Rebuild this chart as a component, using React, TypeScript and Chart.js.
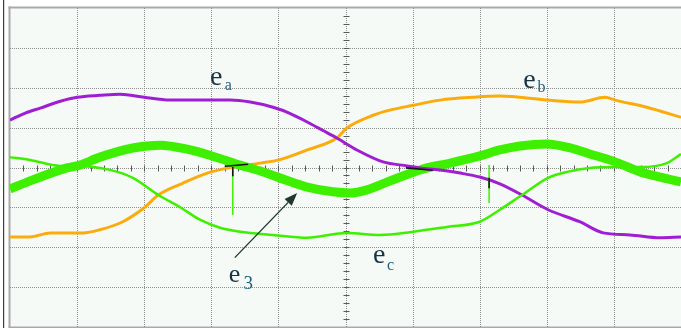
import { useEffect, useRef } from 'react';
import { Chart, registerables } from 'chart.js';

Chart.register(...registerables);

// Horizontal axis: divisions 0..10, vertical axis: divisions -4..4
const X_TICKS = [0, 1, 2, 3, 4, 5, 6, 7, 8, 9, 10];
const Y_TICKS = [-4, -3, -2, -1, 0, 1, 2, 3, 4];

// e_a (purple)
const EA_X = [0, 0.22, 0.45, 0.75, 1.0, 1.34, 1.64, 2.0, 2.38, 2.83, 3.28, 3.58, 3.92, 4.17, 4.43, 4.65, 4.87, 5.17, 5.56, 5.92, 6.11, 6.41, 6.71, 7.0, 7.3, 7.63, 8.02, 8.49, 8.84, 9.24, 9.69, 10];
const EA_Y = [1.19, 1.36, 1.49, 1.66, 1.76, 1.81, 1.84, 1.76, 1.69, 1.69, 1.69, 1.64, 1.51, 1.36, 1.14, 0.94, 0.74, 0.44, 0.14, 0.04, -0.01, -0.06, -0.14, -0.24, -0.41, -0.69, -1.06, -1.36, -1.64, -1.69, -1.76, -1.74];

// e_b (orange)
const EB_X = [0, 0.3, 0.6, 1.09, 1.34, 1.68, 2.0, 2.21, 2.58, 2.94, 3.32, 3.73, 4.01, 4.43, 4.87, 5.02, 5.41, 5.66, 6.01, 6.41, 6.9, 7.3, 8.0, 8.49, 8.87, 9.02, 9.49, 10];
const EB_Y = [-1.74, -1.74, -1.64, -1.64, -1.56, -1.36, -1.01, -0.69, -0.39, -0.14, 0.01, 0.11, 0.19, 0.44, 0.74, 0.99, 1.31, 1.44, 1.56, 1.69, 1.76, 1.79, 1.69, 1.64, 1.76, 1.69, 1.51, 1.26];

// e_c (green, clean)
const EC_X = [0, 0.3, 0.75, 1.0, 1.49, 1.83, 2.21, 2.53, 2.83, 3.13, 3.43, 3.92, 4.43, 5.02, 5.51, 6.01, 6.51, 7.0, 7.3, 7.63, 8.02, 8.3, 8.64, 9.02, 9.39, 9.79, 10];
const EC_Y = [0.26, 0.19, 0.04, 0.04, -0.06, -0.26, -0.69, -0.99, -1.31, -1.51, -1.61, -1.69, -1.76, -1.64, -1.69, -1.61, -1.49, -1.36, -1.06, -0.69, -0.26, -0.11, -0.01, 0.01, 0.01, 0.11, 0.34];

// e_3 (green, noisy band)
const E3_X = [0, 0.34, 0.85, 1.04, 1.34, 1.83, 2.24, 2.64, 3.01, 3.43, 3.73, 4.02, 4.43, 4.81, 5.07, 5.32, 5.66, 6.15, 6.56, 7.0, 7.3, 7.6, 8.0, 8.35, 8.64, 8.99, 9.39, 9.69, 10];
const E3_Y = [-0.54, -0.31, -0.01, 0.06, 0.26, 0.49, 0.56, 0.46, 0.29, 0.06, -0.09, -0.26, -0.49, -0.61, -0.64, -0.56, -0.34, -0.04, 0.11, 0.29, 0.44, 0.54, 0.59, 0.49, 0.34, 0.16, -0.11, -0.24, -0.36];

// Glitches seen on the trace (green spikes, dark overlap marks)
const SPIKE_G_X = [3.32, 3.32, null, 7.14, 7.14];
const SPIKE_G_Y = [-0.06, -1.19, null, 0.06, -0.89];
const DARK_X = [3.2, 3.55, null, 5.9, 6.3, null, 3.32, 3.32, null, 7.14, 7.14];
const DARK_Y = [0.03, 0.08, null, -0.01, -0.07, null, 0.01, -0.22, null, -0.26, -0.52];

// Trace labels: main letter, subscript, positions in divisions
const LABEL_MAIN = ['e', 'e', 'e', 'e'];
const LABEL_SUB = ['a', 'b', 'c', '3'];
const LABEL_X = [2.98, 7.65, 5.41, 3.26];
const LABEL_Y = [2.08, 2.0, -2.4, -2.875];
const SUB_X = [3.2, 7.86, 5.62, 3.48];
const SUB_Y = [1.94, 1.89, -2.56, -3.04];

const ARROW_FROM = [3.35, -2.26];
const ARROW_TO = [4.28, -0.64];

const pts = (xs: (number | null)[], ys: (number | null)[]) =>
  xs.map((x, i) => ({ x: x as any, y: ys[i] as any }));

const scopePlugin = {
  id: 'scope',
  beforeDraw(chart: any) {
    const { ctx, chartArea, scales } = chart;
    const { left, top, right, bottom } = chartArea;
    const xs = scales.x;
    const ys = scales.y;
    ctx.save();
    ctx.fillStyle = '#ffffff';
    ctx.fillRect(0, 0, chart.width, chart.height);
    ctx.fillStyle = '#f5faf7';
    ctx.fillRect(left, top, right - left, bottom - top);
    // outer dark edge
    ctx.fillStyle = '#3c3c3c';
    ctx.fillRect(3, 0, 1.2, chart.height);
    // frame
    ctx.fillStyle = '#a9a9a9';
    ctx.fillRect(left - 1.5, top - 1.5, right - left + 2, 2);
    ctx.fillRect(left - 1.5, top - 1.5, 2, bottom - top + 2);
    ctx.fillRect(left - 1.5, bottom - 0.5, right - left + 2, 1.5);
    // dotted grid
    ctx.strokeStyle = '#8f8f8f';
    ctx.lineWidth = 1;
    ctx.setLineDash([1, 1]);
    X_TICKS.forEach((v) => {
      if (v === X_TICKS[0] || v === X_TICKS[X_TICKS.length - 1]) return;
      const px = Math.round(xs.getPixelForValue(v)) + 0.5;
      ctx.beginPath();
      ctx.moveTo(px, top);
      ctx.lineTo(px, bottom);
      ctx.stroke();
    });
    Y_TICKS.forEach((v) => {
      if (v === Y_TICKS[0] || v === Y_TICKS[Y_TICKS.length - 1]) return;
      const py = Math.round(ys.getPixelForValue(v)) + 0.5;
      ctx.beginPath();
      ctx.moveTo(left, py);
      ctx.lineTo(right, py);
      ctx.stroke();
    });
    ctx.setLineDash([]);
    // minor ticks on the centre axes
    ctx.strokeStyle = '#5a5a5a';
    const cy = Math.round(ys.getPixelForValue(0)) + 0.5;
    const cx = Math.round(xs.getPixelForValue(5)) + 0.5;
    for (let k = 1; k < 50; k++) {
      const px = Math.round(xs.getPixelForValue(k / 5)) + 0.5;
      ctx.beginPath();
      ctx.moveTo(px, cy - 3);
      ctx.lineTo(px, cy + 3);
      ctx.stroke();
    }
    for (let k = -19; k < 20; k++) {
      const py = Math.round(ys.getPixelForValue(k / 5)) + 0.5;
      ctx.beginPath();
      ctx.moveTo(cx - 3, py);
      ctx.lineTo(cx + 3, py);
      ctx.stroke();
    }
    ctx.restore();
  },
  afterDatasetsDraw(chart: any) {
    const { ctx, scales } = chart;
    const xs = scales.x;
    const ys = scales.y;
    ctx.save();
    // labels
    ctx.textBaseline = 'alphabetic';
    ctx.textAlign = 'left';
    LABEL_MAIN.forEach((t, i) => {
      ctx.fillStyle = '#173345';
      ctx.font = (i === 3 ? '26px' : '28px') + ' "Liberation Serif", "DejaVu Serif", serif';
      ctx.fillText(t, xs.getPixelForValue(LABEL_X[i]), ys.getPixelForValue(LABEL_Y[i]));
      ctx.fillStyle = '#1f5d7c';
      ctx.font = (i === 3 ? '19px' : '16px') + ' "Liberation Serif", "DejaVu Serif", serif';
      ctx.fillText(LABEL_SUB[i], xs.getPixelForValue(SUB_X[i]), ys.getPixelForValue(SUB_Y[i]));
    });
    // arrow
    const x0 = xs.getPixelForValue(ARROW_FROM[0]);
    const y0 = ys.getPixelForValue(ARROW_FROM[1]);
    const x1 = xs.getPixelForValue(ARROW_TO[0]);
    const y1 = ys.getPixelForValue(ARROW_TO[1]);
    const ang = Math.atan2(y1 - y0, x1 - x0);
    const len = 13;
    const hw = 5;
    const bx = x1 - len * Math.cos(ang);
    const by = y1 - len * Math.sin(ang);
    ctx.strokeStyle = '#1f3a2c';
    ctx.fillStyle = '#1f3a2c';
    ctx.lineWidth = 1.4;
    ctx.beginPath();
    ctx.moveTo(x0, y0);
    ctx.lineTo(bx, by);
    ctx.stroke();
    ctx.beginPath();
    ctx.moveTo(x1, y1);
    ctx.lineTo(bx + hw * Math.sin(ang), by - hw * Math.cos(ang));
    ctx.lineTo(bx - hw * Math.sin(ang), by + hw * Math.cos(ang));
    ctx.closePath();
    ctx.fill();
    ctx.restore();
  },
};

export default function App() {
  const ref = useRef<HTMLCanvasElement | null>(null);

  useEffect(() => {
    if (!ref.current) return;
    const lineDs = (label: string, data: any[], color: string, width: number, order: number, tension = 0.35) => ({
      label,
      data,
      borderColor: color,
      backgroundColor: color,
      borderWidth: width,
      pointRadius: 0,
      tension,
      cubicInterpolationMode: 'monotone' as const,
      spanGaps: false,
      order,
      fill: false,
    });
    const chart = new Chart(ref.current, {
      type: 'line',
      data: {
        datasets: [
          lineDs('spikes', pts(SPIKE_G_X, SPIKE_G_Y), '#3ef000', 1.5, 1, 0),
          lineDs('dark', pts(DARK_X, DARK_Y), '#151515', 1.6, 0, 0),
          lineDs('e_c', pts(EC_X, EC_Y), '#3ef000', 2.5, 2),
          lineDs('e_a', pts(EA_X, EA_Y), '#a01ed2', 3, 3),
          lineDs('e_3', pts(E3_X, E3_Y), '#3ef000', 9, 4),
          lineDs('e_b', pts(EB_X, EB_Y), '#fbab0c', 3, 5),
        ],
      },
      options: {
        responsive: false,
        animation: false,
        devicePixelRatio: 1,
        parsing: true,
        layout: { padding: { left: 10, top: 8, right: 0, bottom: 1 } },
        plugins: { legend: { display: false }, tooltip: { enabled: false } },
        events: [],
        scales: {
          x: { type: 'linear', min: X_TICKS[0], max: X_TICKS[X_TICKS.length - 1], display: false },
          y: { type: 'linear', min: Y_TICKS[0], max: Y_TICKS[Y_TICKS.length - 1], display: false },
        },
      },
      plugins: [scopePlugin],
    });
    return () => chart.destroy();
  }, []);

  return (
    <div style={{ position: 'absolute', left: 0, top: 0, width: 681, height: 328, background: '#fff' }}>
      <canvas ref={ref} width={681} height={328} style={{ display: 'block', width: 681, height: 328 }} />
    </div>
  );
}
